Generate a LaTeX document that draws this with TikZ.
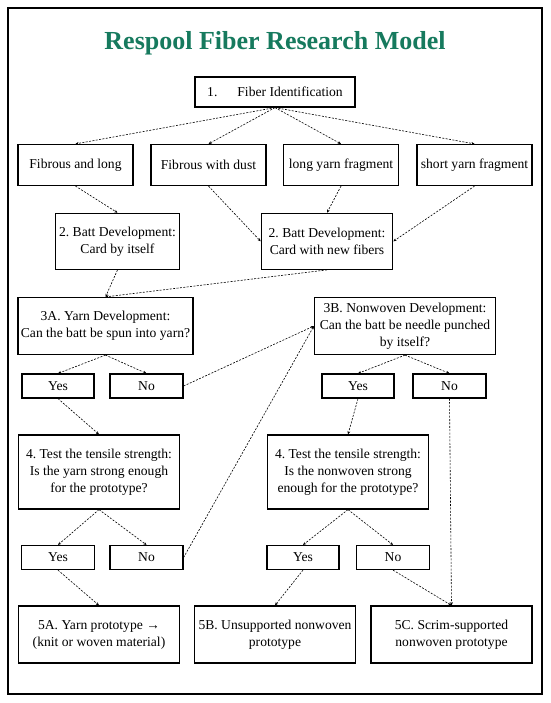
\documentclass[tikz,border=0pt]{standalone}
\usepackage{fontspec}
\setmainfont{Liberation Serif}
\usetikzlibrary{arrows.meta}
\definecolor{titlegreen}{RGB}{22,122,94}
\frenchspacing
\begin{document}
\begin{tikzpicture}[x=1pt,y=-1pt,
  box/.style={draw=black,line width=1.2pt,rectangle,inner sep=0pt,align=center,
    font=\fontsize{13.6}{17}\selectfont},
  flow/.style={draw=black,line width=0.6pt,dash pattern=on 2pt off 1.4pt,
    -{Stealth[length=3.2pt,width=2.8pt]}}]
\useasboundingbox (0,0) rectangle (550,703);
\fill[white] (0,0) rectangle (550,703);
\draw[line width=2pt] (7.5,8) rectangle (542,694);
\node[font=\fontsize{26}{30}\selectfont\bfseries,text=titlegreen] (title) at (275,43.5) {Respool Fiber Research Model};
\node[box,minimum width=160pt,minimum height=30pt] (b1) at (275,92) {1.\hspace{20pt}Fiber Identification};
\node[box,minimum width=115pt,minimum height=41pt] (fl) at (75.5,165) {Fibrous and long};
\node[box,minimum width=115pt,minimum height=41pt] (fd) at (208.5,165) {Fibrous with dust};
\node[box,minimum width=115pt,minimum height=41pt] (ly) at (341,165) {long yarn fragment};
\node[box,minimum width=115pt,minimum height=41pt] (sy) at (474.5,165) {short yarn fragment};
\node[box,minimum width=124pt,minimum height=56pt] (c1) at (117.5,241.3) {2. Batt Development:\\Card by itself};
\node[box,minimum width=131.5pt,minimum height=56pt] (c2) at (327,241.3) {2. Batt Development:\\Card with new fibers};
\node[box,minimum width=175pt,minimum height=57pt] (a3) at (105.5,326) {3A. Yarn Development:\\Can the batt be spun into yarn?};
\node[box,minimum width=181pt,minimum height=57pt] (b3) at (405,326) {3B. Nonwoven Development:\\Can the batt be needle punched\\by itself?};
\node[box,minimum width=72pt,minimum height=24pt] (y1) at (58,386) {Yes};
\node[box,minimum width=73pt,minimum height=24pt] (n1) at (146.5,386) {No};
\node[box,minimum width=72pt,minimum height=24pt] (y2) at (358,386) {Yes};
\node[box,minimum width=73pt,minimum height=24pt] (n2) at (449.5,386) {No};
\node[box,minimum width=161pt,minimum height=74pt] (t1) at (99,472) {4. Test the tensile strength:\\Is the yarn strong enough\\for the prototype?};
\node[box,minimum width=161pt,minimum height=74pt] (t2) at (348,472) {4. Test the tensile strength:\\Is the nonwoven strong\\enough for the prototype?};
\node[box,minimum width=73pt,minimum height=24pt] (y3) at (58,557.5) {Yes};
\node[box,minimum width=73pt,minimum height=24pt] (n3) at (146.5,557.5) {No};
\node[box,minimum width=72pt,minimum height=24pt] (y4) at (303,557.5) {Yes};
\node[box,minimum width=73pt,minimum height=24pt] (n4) at (393,557.5) {No};
\node[box,minimum width=161pt,minimum height=57pt] (p5a) at (99,634.5) {5A. Yarn prototype →\\(knit or woven material)};
\node[box,minimum width=161pt,minimum height=57pt] (p5b) at (275,634.5) {5B. Unsupported nonwoven\\prototype};
\node[box,minimum width=161pt,minimum height=57pt] (p5c) at (451.5,634.5) {5C. Scrim-supported\\nonwoven prototype};
\draw[flow] (b1.south) -- (fl.north);
\draw[flow] (b1.south) -- (fd.north);
\draw[flow] (b1.south) -- (ly.north);
\draw[flow] (b1.south) -- (sy.north);
\draw[flow] (fl.south) -- (c1.north);
\draw[flow] (fd.south) -- (c2.west);
\draw[flow] (ly.south) -- (c2.north);
\draw[flow] (sy.south) -- (c2.east);
\draw[flow] (c1.south) -- (a3.north);
\draw[flow] (c2.south) -- (a3.north);
\draw[flow] (a3.south) -- (y1.north);
\draw[flow] (a3.south) -- (n1.north);
\draw[flow] (b3.south) -- (y2.north);
\draw[flow] (b3.south) -- (n2.north);
\draw[flow] (n1.east) -- (b3.west);
\draw[flow] (n3.east) -- (b3.west);
\draw[flow] (y1.south) -- (t1.north);
\draw[flow] (y2.south) -- (t2.north);
\draw[flow] (t1.south) -- (y3.north);
\draw[flow] (t1.south) -- (n3.north);
\draw[flow] (t2.south) -- (y4.north);
\draw[flow] (t2.south) -- (n4.north);
\draw[flow] (y3.south) -- (p5a.north);
\draw[flow] (y4.south) -- (p5b.north);
\draw[flow] (n4.south) -- (p5c.north);
\draw[flow] (n2.south) -- (p5c.north);
\end{tikzpicture}
\end{document}
